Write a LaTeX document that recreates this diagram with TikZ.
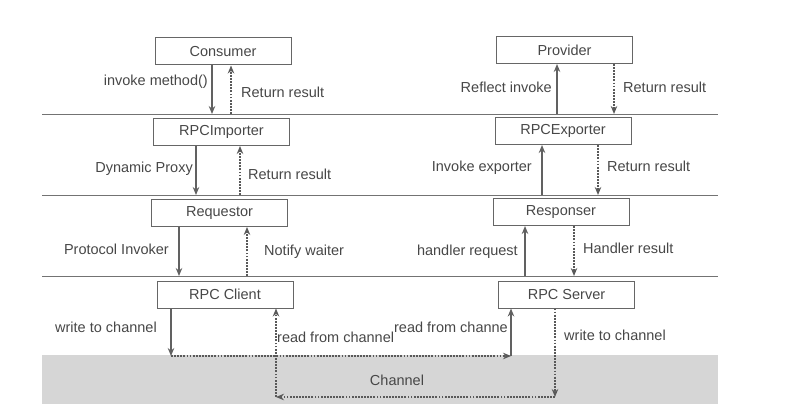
\documentclass[tikz,border=0pt]{standalone}
\usepackage{fontspec}
\setmainfont{Liberation Sans}
\usetikzlibrary{arrows.meta}
\begin{document}
\begin{tikzpicture}[x=1pt,y=-1pt,
 box/.style={draw=black!60, line width=1pt, minimum width=136pt, minimum height=27pt, inner sep=0pt, text=black!72, font=\fontsize{14.5}{16}\selectfont},
 lbl/.style={text=black!72, font=\fontsize{14.5}{16}\selectfont, inner sep=0pt},
 sep/.style={draw=black!55, line width=0.9pt},
 sol/.style={draw=black!62, line width=2pt, -{Stealth[length=8pt,width=6.5pt]}},
 dotl/.style={draw=black!65, line width=1.8pt, dash pattern=on 1.8pt off 1.3pt},
 dot/.style={dotl, -{Stealth[length=8pt,width=6.5pt]}},
]
\useasboundingbox (0,0) rectangle (792,417);
% channel band
\node[fill=black!16, minimum width=676pt, minimum height=49pt, inner sep=0pt] (channel) at (380,379.5) {};
\node[lbl] (chlabel) at (397,380) {Channel};
% separator lines
\draw[sep] (42,114) -- (718,114);
\draw[sep] (42,195) -- (718,195);
\draw[sep] (42,276) -- (718,276);
% boxes
\node[box] (consumer) at (223,51.5) {Consumer};
\node[box] (importer) at (221.5,132) {RPCImporter};
\node[box] (requestor) at (219.5,213) {Requestor};
\node[box] (client) at (225,294.5) {RPC Client};
\node[box] (provider) at (564.5,50) {Provider};
\node[box] (exporter) at (563,131) {RPCExporter};
\node[box] (responser) at (561,212) {Responser};
\node[box] (server) at (566.5,294.5) {RPC Server};
% coordinates on separator lines
\coordinate (s1a) at (212,114);
\coordinate (s1b) at (231,114);
\coordinate (s1c) at (557,114);
\coordinate (s1d) at (614,114);
\coordinate (s2a) at (196,195);
\coordinate (s2b) at (240,195);
\coordinate (s2c) at (542,195);
\coordinate (s2d) at (598,195);
\coordinate (s3a) at (179,276);
\coordinate (s3b) at (247,276);
\coordinate (s3c) at (525,276);
\coordinate (s3d) at (574,276);
\coordinate (c1) at (171,356);
\coordinate (c2) at (511,356);
\coordinate (c3) at (555,397);
\coordinate (c4) at (276,397);
% level 1
\draw[sol] (consumer.south -| s1a) -- (s1a);
\draw[dot] (s1b) -- (consumer.south -| s1b);
\draw[sol] (s1c) -- (provider.south -| s1c);
\draw[dot] (provider.south -| s1d) -- (s1d);
% level 2
\draw[sol] (importer.south -| s2a) -- (s2a);
\draw[dot] (s2b) -- (importer.south -| s2b);
\draw[sol] (s2c) -- (exporter.south -| s2c);
\draw[dot] (exporter.south -| s2d) -- (s2d);
% level 3
\draw[sol] (requestor.south -| s3a) -- (s3a);
\draw[dot] (s3b) -- (requestor.south -| s3b);
\draw[sol] (s3c) -- (responser.south -| s3c);
\draw[dot] (responser.south -| s3d) -- (s3d);
% channel
\draw[sol] (client.south -| c1) -- (c1);
\draw[dot] (c1) -- (c2);
\draw[sol] (c2) -- (server.south -| c2);
\draw[dot] (server.south -| c3) -- (c3);
\draw[dot] (c3) -- (c4);
\draw[dot] (c4) -- (client.south -| c4);
% labels
\node[lbl, anchor=east] (l1) at (208,82) {invoke method()};
\node[lbl, anchor=west] (l2) at (241,92) {Return result};
\node[lbl, anchor=east] (l3) at (193,169) {Dynamic Proxy};
\node[lbl, anchor=west] (l4) at (248,174) {Return result};
\node[lbl, anchor=east] (l5) at (169,249) {Protocol Invoker};
\node[lbl, anchor=west] (l6) at (264,252) {Notify waiter};
\node[lbl, anchor=west] (l7) at (55,327) {write to channel};
\node[lbl, anchor=west] (l8) at (277,337) {read from channel};
\node[lbl, anchor=east] (l9) at (508,327) {read from channe};
\node[lbl, anchor=west] (l10) at (564,335) {write to channel};
\node[lbl, anchor=east] (r1) at (552,87) {Reflect invoke};
\node[lbl, anchor=west] (r2) at (623,87) {Return result};
\node[lbl, anchor=east] (r3) at (532,168) {Invoke exporter};
\node[lbl, anchor=west] (r4) at (607,166) {Return result};
\node[lbl, anchor=east] (r5) at (518,252) {handler request};
\node[lbl, anchor=west] (r6) at (583,248) {Handler result};
\end{tikzpicture}
\end{document}
